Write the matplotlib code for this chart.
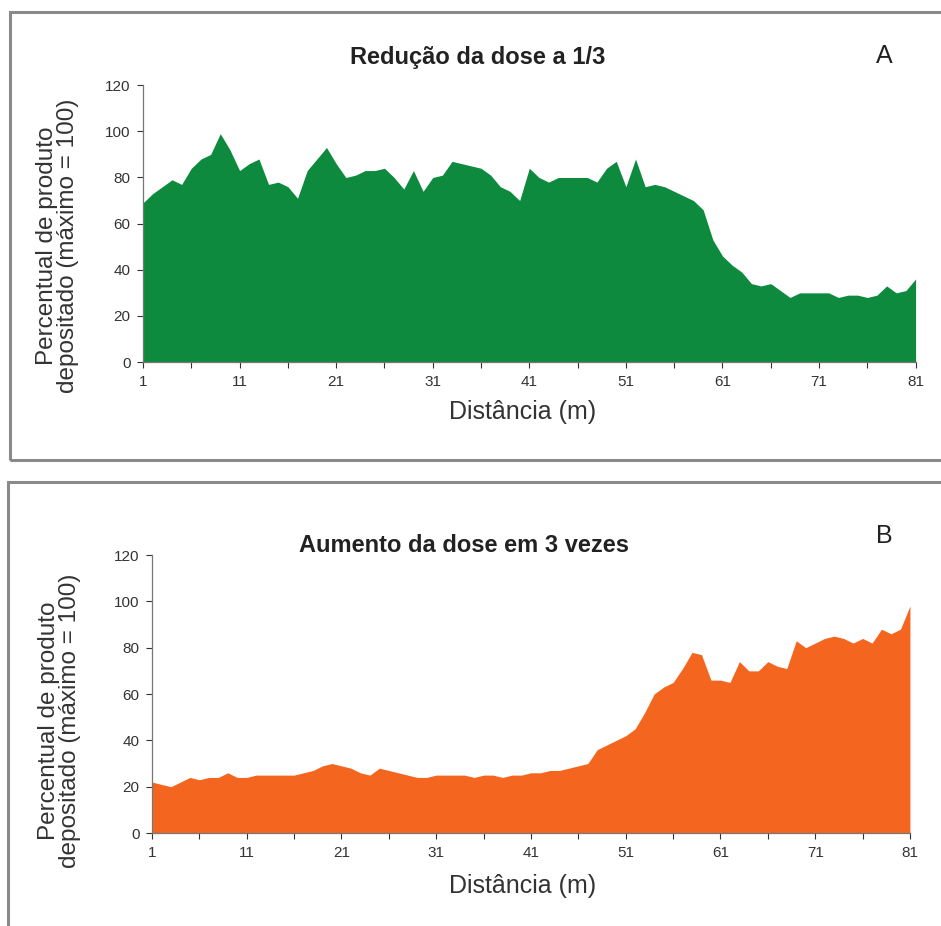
#import used libraries
import numpy as np
from matplotlib import pyplot as plt
from matplotlib.patches import Rectangle

#distance (m)
distancia = np.arange(1, 82)

#panel A: dose reduced to 1/3
reducao = [69, 73, 76, 79, 77, 84, 88, 90, 99, 92,
           83, 86, 88, 77, 78, 76, 71, 83, 88, 93,
           86, 80, 81, 83, 83, 84, 80, 75, 83, 74,
           80, 81, 87, 86, 85, 84, 81, 76, 74, 70,
           84, 80, 78, 80, 80, 80, 80, 78, 84, 87,
           76, 88, 76, 77, 76, 74, 72, 70, 66, 53,
           46, 42, 39, 34, 33, 34, 31, 28, 30, 30,
           30, 30, 28, 29, 29, 28, 29, 33, 30, 31,
           36]

#panel B: dose increased 3 times
aumento = [22, 21, 20, 22, 24, 23, 24, 24, 26, 24,
           24, 25, 25, 25, 25, 25, 26, 27, 29, 30,
           29, 28, 26, 25, 28, 27, 26, 25, 24, 24,
           25, 25, 25, 25, 24, 25, 25, 24, 25, 25,
           26, 26, 27, 27, 28, 29, 30, 36, 38, 40,
           42, 45, 52, 60, 63, 65, 71, 78, 77, 66,
           66, 65, 74, 70, 70, 74, 72, 71, 83, 80,
           82, 84, 85, 84, 82, 84, 82, 88, 86, 88,
           98]

titulos = ["Redução da dose a 1/3", "Aumento da dose em 3 vezes"]
letras = ["A", "B"]
cores = ["#0d8a3d", "#f4661f"]
y_ticks = [0, 20, 40, 60, 80, 100, 120]
x_labels = [1, 11, 21, 31, 41, 51, 61, 71, 81]

plt.rcParams['font.family'] = ['Liberation Sans', 'DejaVu Sans']

fig = plt.figure(figsize=(9.41, 9.26), dpi=100)

#grey frames around each panel
fig.patches.append(Rectangle((0.011, 0.503), 1.2, 0.484, transform=fig.transFigure,
                             fill=False, edgecolor='#8a8a8a', lw=2.2))
fig.patches.append(Rectangle((0.009, -0.2), 1.2, 0.6795, transform=fig.transFigure,
                             fill=False, edgecolor='#8a8a8a', lw=2.2))

#axes positions [left, bottom, width, height]
posicoes = [[0.152, 0.609, 0.821, 0.299], [0.1615, 0.1004, 0.8055, 0.3002]]
dados = [reducao, aumento]
titulo_xy = [(0.508, 0.938), (0.493, 0.411)]
letra_y = [0.94, 0.421]
xlabel_y = [0.555, 0.043]
ylabel_xy = [(0.061, 0.735), (0.063, 0.222)]

for k in range(2):
    ax = fig.add_axes(posicoes[k])
    ax.fill_between(distancia, dados[k], 0, color=cores[k], lw=0)
    ax.set_xlim(1, 81)
    ax.set_ylim(0, 120)
    ax.set_yticks(y_ticks)
    ax.set_xticks(np.arange(1, 82, 5))
    ax.set_xticklabels([str(v) if v in x_labels else "" for v in range(1, 82, 5)])
    ax.tick_params(labelsize=11, colors='#333333', length=4, width=0.8, pad=5)
    for s in ['top', 'right']:
        ax.spines[s].set_visible(False)
    for s in ['left', 'bottom']:
        ax.spines[s].set_color('#777777')
        ax.spines[s].set_linewidth(0.9)
    #texts
    fig.text(titulo_xy[k][0], titulo_xy[k][1], titulos[k], ha='center', va='center',
             fontsize=17, fontweight='bold', color='#222222')
    fig.text(0.94, letra_y[k], letras[k], ha='center', va='center',
             fontsize=18, color='#222222')
    fig.text(0.555, xlabel_y[k], "Distância (m)", ha='center', va='center',
             fontsize=18, color='#333333')
    fig.text(ylabel_xy[k][0], ylabel_xy[k][1],
             "Percentual de produto\ndepositado (máximo = 100)",
             ha='center', va='center', rotation=90, fontsize=17.5,
             color='#333333', linespacing=0.95)

plt.savefig("out.png", dpi=100)
plt.close()
